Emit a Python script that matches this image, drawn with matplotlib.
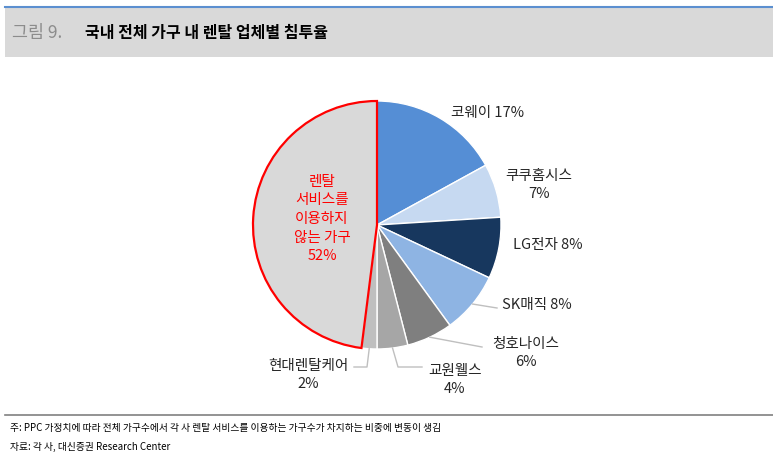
import numpy as np
import matplotlib
matplotlib.use("Agg")
import matplotlib.pyplot as plt
from matplotlib.lines import Line2D
from matplotlib.patches import Rectangle

plt.rcParams['font.family'] = ['Noto Sans CJK KR', 'DejaVu Sans']

W, H = 773, 465

# slice sizes (clockwise from 12 o'clock)
names = ["코웨이", "쿠쿠홈시스", "LG전자", "SK매직", "청호나이스", "교원웰스", "현대렌탈케어", "렌탈\n서비스를\n이용하지\n않는 가구"]
shares = [17, 7, 8, 8, 6, 4, 2, 48]
pct_labels = ["17%", "7%", "8%", "8%", "6%", "4%", "2%", "52%"]
colors = ["#558ED5", "#C6D9F1", "#17375E", "#8EB4E3", "#7F7F7F", "#A6A6A6", "#BFBFBF", "#D9D9D9"]


def fp(x, y):
    # pixel (from top-left) -> figure fraction
    return x / W, 1 - y / H


fig = plt.figure(figsize=(W / 100, H / 100), dpi=100)

# header
fig.add_artist(Rectangle(fp(5, 57), (W - 5) / W, 49 / H, transform=fig.transFigure,
                         facecolor="#D9D9D9", edgecolor="none"))
fig.add_artist(Line2D([5 / W, 1], [1 - 7 / H] * 2, transform=fig.transFigure,
                      color="#5B8FD0", lw=1.5))
fig.text(*fp(12, 33), "그림 9.", fontsize=12.5, color="#8C8C8C", va="center", ha="left")
fig.text(*fp(85, 33), "국내 전체 가구 내 렌탈 업체별 침투율", fontsize=11.5, color="black",
         fontweight="bold", va="center", ha="left")

# pie
cx, cy, r = 377, 225, 124
ax = fig.add_axes([(cx - r) / W, (H - cy - r) / H, 2 * r / W, 2 * r / H])
wedges, _ = ax.pie(shares, colors=colors, startangle=90, counterclock=False,
                   wedgeprops=dict(edgecolor="white", linewidth=1.0))
wedges[-1].set_edgecolor("#FF0000")
wedges[-1].set_linewidth(1.6)
wedges[-1].set_zorder(5)
ax.set_xlim(-1, 1)
ax.set_ylim(-1, 1)
ax.axis("off")

# outside labels
label_pos = {0: (488, 113), 1: (539, 185), 2: (548, 245), 3: (537, 305),
             4: (526, 353), 5: (455, 380), 6: (308, 375)}
for i, (x, y) in label_pos.items():
    if i in (0, 2, 3):
        txt = names[i] + " " + pct_labels[i]
    else:
        txt = names[i] + "\n" + pct_labels[i]
    fig.text(*fp(x, y), txt, fontsize=10.5, color="#262626", ha="center", va="center",
             linespacing=1.3)

# inside label for non-users
fig.text(*fp(322, 219), names[-1] + "\n" + pct_labels[-1], fontsize=10.5, color="#FF0000",
         ha="center", va="center", linespacing=1.42)


def wedge_mid(i):
    w = wedges[i]
    ang = np.deg2rad((w.theta1 + w.theta2) / 2)
    px, py = ax.transData.transform((np.cos(ang), np.sin(ang)))
    return px, H - py


leaders = {3: [(497, 308)], 4: [(482, 347)], 5: [(398, 367), (422, 367)], 6: [(367, 367), (354, 367)]}
for i, pts in leaders.items():
    sx, sy = wedge_mid(i)
    xs = [sx] + [p[0] for p in pts]
    ys = [sy] + [p[1] for p in pts]
    fig.add_artist(Line2D([x / W for x in xs], [1 - y / H for y in ys],
                          transform=fig.transFigure, color="#BFBFBF", lw=1.0))

# footer
fig.add_artist(Line2D([5 / W, 1], [1 - 415 / H] * 2, transform=fig.transFigure,
                      color="#808080", lw=1.2))
fig.text(*fp(10, 428), "주: PPC 가정치에 따라 전체 가구수에서 각 사 렌탈 서비스를 이용하는 가구수가 차지하는 비중에 변동이 생김",
         fontsize=7, color="black", ha="left", va="center")
fig.text(*fp(10, 447), "자료: 각 사, 대신증권 Research Center", fontsize=7, color="black",
         ha="left", va="center")

fig.savefig("out.png", dpi=100)
